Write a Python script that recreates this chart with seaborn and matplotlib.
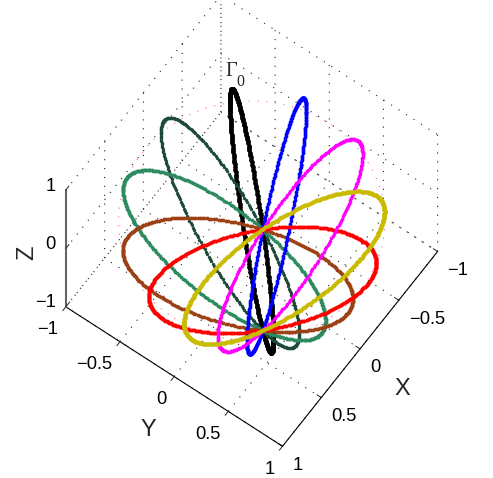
import numpy as np
import matplotlib
matplotlib.use('Agg')
import matplotlib.pyplot as plt
import seaborn as sns
from mpl_toolkits.mplot3d import proj3d

# Rings are circles cut from the unit sphere by vertical planes through one chord.
chord_x = 0.354
chord_y = 0.354
plane_angles = [225, 247.5, 270, 292.5, 202.5, 135, 180, 157.5]
ring_colors = ['#000000', '#1e4a3a', '#2e8b60', '#9c4015', '#0000ff', '#ff0000', '#ff00ff', '#c8bb00']
ring_sizes = [4.8, 3.4, 3.8, 3.8, 3.8, 4.0, 3.6, 4.4]
x_ticks = [-1, -0.5, 0, 0.5, 1]
y_ticks = [-1, -0.5, 0, 0.5, 1]
z_ticks = [-1, 0, 1]
x_labels = ['\u22121', '\u22120.5', '0', '0.5', '1']
y_labels = ['\u22121', '\u22120.5', '0', '0.5', '1']
z_labels = ['\u22121', '0', '1']
equator_radius = 1.0

sns.set_theme(style='white')
plt.rcParams['font.family'] = ['Liberation Sans', 'DejaVu Sans']
plt.rcParams['grid.color'] = '#222222'
plt.rcParams['grid.linewidth'] = 0.8
plt.rcParams['grid.linestyle'] = (0, (1, 7))

W, H = 493, 478
fig = plt.figure(figsize=(W / 100, H / 100), dpi=100)
size = 460
ax = fig.add_axes([(245.5 - size / 2) / W, (251 - size / 2) / H, size / W, size / H], projection='3d')
ax.set_proj_type('ortho')
ax.view_init(elev=64, azim=35.6)
ax.set_xlim(-1, 1, view_margin=0)
ax.set_ylim(-1, 1, view_margin=0)
ax.set_zlim(-1, 1, view_margin=0)
ax.set_box_aspect((1, 1, 1), zoom=0.974)
ax.patch.set_alpha(0)
ax.computed_zorder = False

ax.set_xticks(x_ticks)
ax.set_yticks(y_ticks)
ax.set_zticks(z_ticks)
ax.set_xticklabels([])
ax.set_yticklabels([])
ax.set_zticklabels([])
for axis in (ax.xaxis, ax.yaxis, ax.zaxis):
    axis.set_pane_color((1, 1, 1, 0))
    axis.pane.set_edgecolor('none')
    axis.line.set_color('black')
    axis.line.set_linewidth(0.8)
    axis._axinfo['tick']['inward_factor'] = 0.0
    axis._axinfo['tick']['outward_factor'] = 0.25
    axis._axinfo['tick']['color'] = 'black'
    axis._axinfo['tick']['linewidth'] = {True: 0.7, False: 0.5}
ax.yaxis._axinfo['tick']['inward_factor'] = 0.25
ax.yaxis._axinfo['tick']['outward_factor'] = 0.0
ax.zaxis.line.set_color('#666666')
ax.zaxis.line.set_linewidth(1.5)

s = np.linspace(0, 2 * np.pi, 361)
ax.plot(equator_radius * np.cos(s), equator_radius * np.sin(s), 0 * s, color='#ff80b0', lw=0.9,
        ls=(0, (1, 6)), zorder=1)

palette = sns.color_palette(ring_colors)
for i, angle in enumerate(plane_angles):
    t = np.radians(angle)
    tx, ty = np.cos(t), np.sin(t)
    along = chord_x * tx + chord_y * ty
    cx, cy = chord_x - along * tx, chord_y - along * ty
    r = np.sqrt(1 - cx ** 2 - cy ** 2)
    u = np.linspace(0, 2 * np.pi, 301)
    ax.plot(cx + r * np.cos(u) * tx, cy + r * np.cos(u) * ty, r * np.sin(u), color=palette[i],
            ls='none', marker='o', ms=ring_sizes[i] * 0.72, mew=0, zorder=5 + i)

fig.canvas.draw()
M = ax.get_proj()


def put(x, y, z, text, dx, dy, ha, va='center'):
    px, py, _ = proj3d.proj_transform(x, y, z, M)
    ax.annotate(text, (px, py), xytext=(dx, dy), textcoords='offset pixels', ha=ha, va=va,
                fontsize=13.2, color='black', annotation_clip=False)


for v, lab in zip(x_ticks, x_labels):
    put(v, 1, -1, lab, 10, -19, 'left')
for v, lab in zip(y_ticks, y_labels):
    put(1, v, -1, lab, -8, -23, 'right')
for v, lab in zip(z_ticks, z_labels):
    put(1, -1, v, lab, -10, 4, 'right')

fig.text(402 / W, 1 - 389 / H, 'X', fontsize=17, ha='center', va='center')
fig.text(148 / W, 1 - 430 / H, 'Y', fontsize=17, ha='center', va='center')
fig.text(27 / W, 1 - 253 / H, 'Z', fontsize=17, ha='center', va='center', rotation=90)
fig.text(231 / W, 1 - 72 / H, '\u0393', fontsize=14.5, family='Liberation Serif', ha='center', va='center')
fig.text(240 / W, 1 - 82.5 / H, '0', fontsize=11.5, family='Liberation Serif', ha='center', va='center')

fig.savefig('out.png', dpi=100)
